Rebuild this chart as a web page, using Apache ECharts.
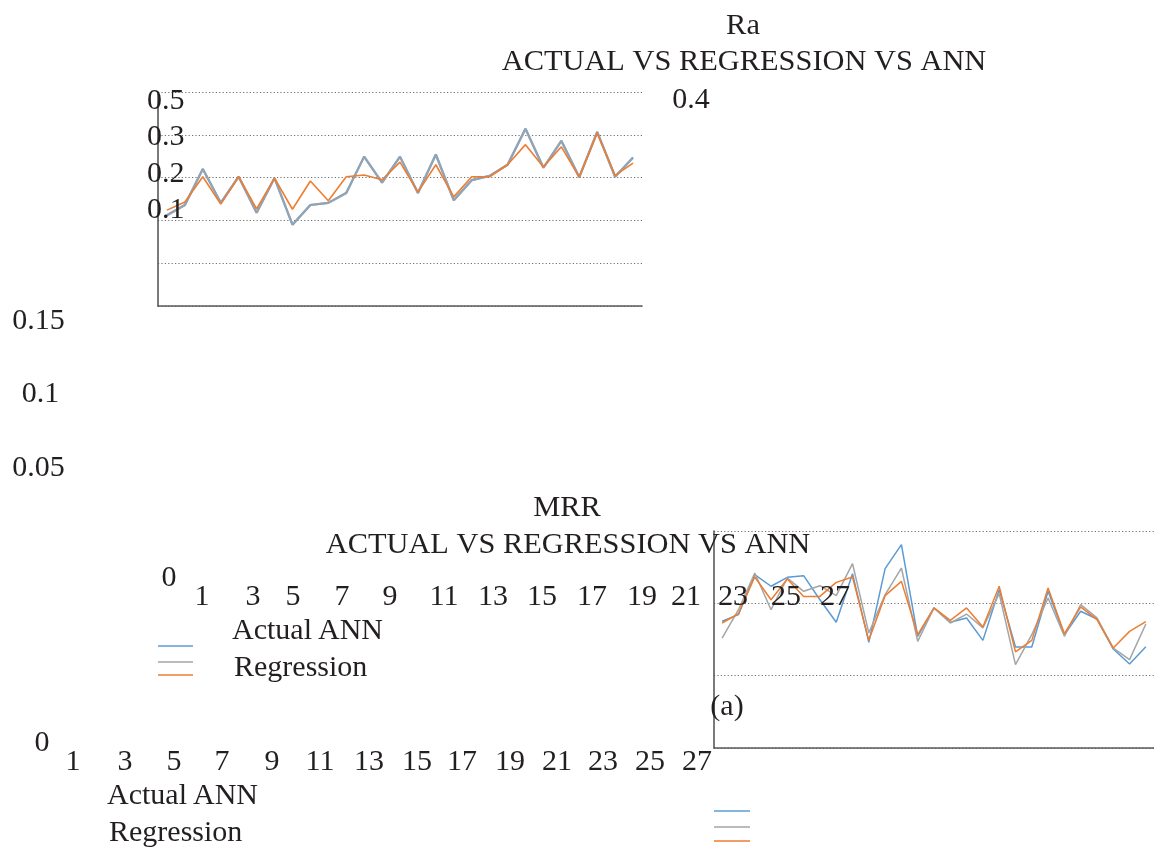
<!DOCTYPE html>
<html>
<head>
<meta charset="utf-8">
<script src="https://cdn.jsdelivr.net/npm/echarts@6/dist/echarts.min.js"></script>
<style>
html,body{margin:0;padding:0;background:#fff;}
#chart{width:1154px;height:849px;}
</style>
</head>
<body>
<div id="chart"></div>
<script>
// ---------- data ----------
const categories = ['1','2','3','4','5','6','7','8','9','10','11','12','13','14','15','16','17','18','19','20','21','22','23','24','25','26','27'];
const seriesNames = ['Actual', 'ANN', 'Regression'];

// Ra chart
const raActual     = [0.212,0.236,0.320,0.241,0.302,0.218,0.299,0.190,0.236,0.241,0.264,0.349,0.288,0.349,0.264,0.354,0.247,0.294,0.304,0.330,0.414,0.323,0.386,0.301,0.407,0.302,0.347];
const raANN        = [0.212,0.236,0.320,0.241,0.302,0.218,0.299,0.190,0.236,0.241,0.264,0.349,0.288,0.349,0.264,0.354,0.247,0.294,0.304,0.330,0.414,0.323,0.386,0.301,0.407,0.302,0.347];
const raRegression = [0.224,0.243,0.302,0.238,0.302,0.227,0.299,0.226,0.292,0.246,0.302,0.306,0.295,0.336,0.266,0.330,0.255,0.302,0.302,0.330,0.377,0.325,0.372,0.301,0.404,0.305,0.334];

// MRR chart
const mrrActual     = [0.0876,0.0922,0.1198,0.1118,0.1180,0.1191,0.1025,0.0869,0.1205,0.0730,0.1240,0.1406,0.0772,0.0968,0.0869,0.0899,0.0744,0.1094,0.0698,0.0698,0.1083,0.0783,0.0945,0.0892,0.0684,0.0581,0.0700];
const mrrANN        = [0.0760,0.0956,0.1210,0.0956,0.1175,0.1083,0.1122,0.1053,0.1274,0.0795,0.1060,0.1244,0.0737,0.0968,0.0864,0.0926,0.0830,0.1067,0.0576,0.0783,0.1037,0.0772,0.0991,0.0899,0.0691,0.0611,0.0857];
const mrrRegression = [0.0864,0.0929,0.1182,0.1025,0.1168,0.1048,0.1048,0.1145,0.1182,0.0744,0.1053,0.1152,0.0783,0.0968,0.0882,0.0968,0.0836,0.1118,0.0664,0.0744,0.1106,0.0790,0.0975,0.0887,0.0691,0.0806,0.0873];

// tick / title texts
const raTitle = 'Ra';
const mrrTitle = 'MRR';
const subTitle = 'ACTUAL VS REGRESSION VS ANN';
const raTickLabels = ['0.5', '0.3', '0.2', '0.1'];
const raStrayTick = '0.4';
const mrrTickLabels = ['0.15', '0.1', '0.05'];
const zeroLabel = '0';
const panelLabel = '(a)';
const oddCategories = categories.filter((c, i) => i % 2 === 0);

// ---------- layout (positions only) ----------
const L = {
  font: '30px "Liberation Serif", "Times New Roman", serif',
  titleFont: '30.4px "Liberation Serif", "Times New Roman", serif',
  ink: '#231f20',
  colors: ['#5B9BD5', '#A5A5A5', '#ED7D31'],
  raTitle: [743, 26], raSub: [744, 62],
  mrrTitle: [567, 508], mrrSub: [568, 545],
  raTickX: 147, raTickY: [101, 137, 174, 210],
  raStray: [691, 100],
  mrrTickX: [38.5, 40.5, 38.5], mrrTickY: [321, 394, 468],
  row1Zero: [169, 578], row1Y: 597,
  row1X: [202, 253, 293, 342, 390, 444, 493, 542, 592, 642, 686, 733, 786, 835],
  row2Zero: [42, 743], row2Y: 762,
  row2X: [73, 125, 174, 222, 272, 320, 369, 417, 462, 510, 557, 603, 650, 697],
  panel: [727, 707],
  leg1Lines: { x1: 158, x2: 193, y: [646, 662, 675] },
  leg1Text: { actual: [232, 631], ann: [318, 631], reg: [234, 668] },
  leg2Lines: { x1: 714, x2: 750, y: [811, 827, 841] },
  leg2Text: { actual: [107, 796], ann: [193, 796], reg: [109, 833] }
};

function txt(t, x, y, align, font) {
  return { type: 'text', x: x, y: y, silent: true, z: 100,
    style: { text: t, font: font || L.font, fill: L.ink, align: align || 'center', verticalAlign: 'middle' } };
}
function seg(x1, x2, y, color) {
  return { type: 'line', silent: true, z: 100,
    shape: { x1: x1, y1: y, x2: x2, y2: y },
    style: { stroke: color, lineWidth: 1.5 } };
}

const graphics = [];
graphics.push(txt(raTitle, L.raTitle[0], L.raTitle[1], 'center', L.titleFont));
graphics.push(txt(subTitle, L.raSub[0], L.raSub[1], 'center', L.titleFont));
graphics.push(txt(mrrTitle, L.mrrTitle[0], L.mrrTitle[1], 'center', L.titleFont));
graphics.push(txt(subTitle, L.mrrSub[0], L.mrrSub[1], 'center', L.titleFont));
raTickLabels.forEach((t, i) => graphics.push(txt(t, L.raTickX, L.raTickY[i], 'left')));
graphics.push(txt(raStrayTick, L.raStray[0], L.raStray[1]));
mrrTickLabels.forEach((t, i) => graphics.push(txt(t, L.mrrTickX[i], L.mrrTickY[i])));
graphics.push(txt(zeroLabel, L.row1Zero[0], L.row1Zero[1]));
oddCategories.forEach((t, i) => graphics.push(txt(t, L.row1X[i], L.row1Y)));
graphics.push(txt(zeroLabel, L.row2Zero[0], L.row2Zero[1]));
oddCategories.forEach((t, i) => graphics.push(txt(t, L.row2X[i], L.row2Y)));
graphics.push(txt(panelLabel, L.panel[0], L.panel[1]));
// legends
L.leg1Lines.y.forEach((y, i) => graphics.push(seg(L.leg1Lines.x1, L.leg1Lines.x2, y, L.colors[i])));
L.leg2Lines.y.forEach((y, i) => graphics.push(seg(L.leg2Lines.x1, L.leg2Lines.x2, y, L.colors[i])));
graphics.push(txt(seriesNames[0], L.leg1Text.actual[0], L.leg1Text.actual[1], 'left'));
graphics.push(txt(seriesNames[1], L.leg1Text.ann[0], L.leg1Text.ann[1], 'left'));
graphics.push(txt(seriesNames[2], L.leg1Text.reg[0], L.leg1Text.reg[1], 'left'));
graphics.push(txt(seriesNames[0], L.leg2Text.actual[0], L.leg2Text.actual[1], 'left'));
graphics.push(txt(seriesNames[1], L.leg2Text.ann[0], L.leg2Text.ann[1], 'left'));
graphics.push(txt(seriesNames[2], L.leg2Text.reg[0], L.leg2Text.reg[1], 'left'));

const axisLineStyle = { color: '#595959', width: 1.6 };
const gridLineStyle = { color: '#6f6f6f', width: 1.1, type: [1.2, 2.2] };

function xAx(gi) {
  return { type: 'category', gridIndex: gi, data: categories, boundaryGap: true,
    axisLine: { show: true, lineStyle: axisLineStyle }, axisTick: { show: false },
    axisLabel: { show: false }, splitLine: { show: false } };
}
function yAx(gi, max, interval) {
  return { type: 'value', gridIndex: gi, min: 0, max: max, interval: interval,
    axisLine: { show: true, lineStyle: axisLineStyle }, axisTick: { show: false },
    axisLabel: { show: false }, splitLine: { show: true, lineStyle: gridLineStyle } };
}
function ln(name, data, gi, color, width, opacity, z) {
  return { name: name, type: 'line', xAxisIndex: gi, yAxisIndex: gi, data: data,
    symbol: 'none', smooth: false, z: z,
    lineStyle: { color: color, width: width, opacity: opacity } };
}

const chart = echarts.init(document.getElementById('chart'), null, { renderer: 'canvas' });
chart.setOption({
  animation: false,
  backgroundColor: '#ffffff',
  grid: [
    { left: 158, top: 92, width: 484, height: 214 },
    { left: 714, top: 531, width: 454, height: 217 }
  ],
  xAxis: [xAx(0), xAx(1)],
  yAxis: [yAx(0, 0.5, 0.1), yAx(1, 0.15, 0.05)],
  series: [
    ln(seriesNames[0], raActual, 0, L.colors[0], 2.2, 1, 2),
    ln(seriesNames[1], raANN, 0, L.colors[1], 2.2, 0.75, 3),
    ln(seriesNames[2], raRegression, 0, L.colors[2], 1.6, 1, 4),
    ln(seriesNames[0], mrrActual, 1, L.colors[0], 1.5, 1, 2),
    ln(seriesNames[1], mrrANN, 1, L.colors[1], 1.5, 1, 3),
    ln(seriesNames[2], mrrRegression, 1, L.colors[2], 1.5, 1, 4)
  ],
  graphic: graphics
});
</script>
</body>
</html>
